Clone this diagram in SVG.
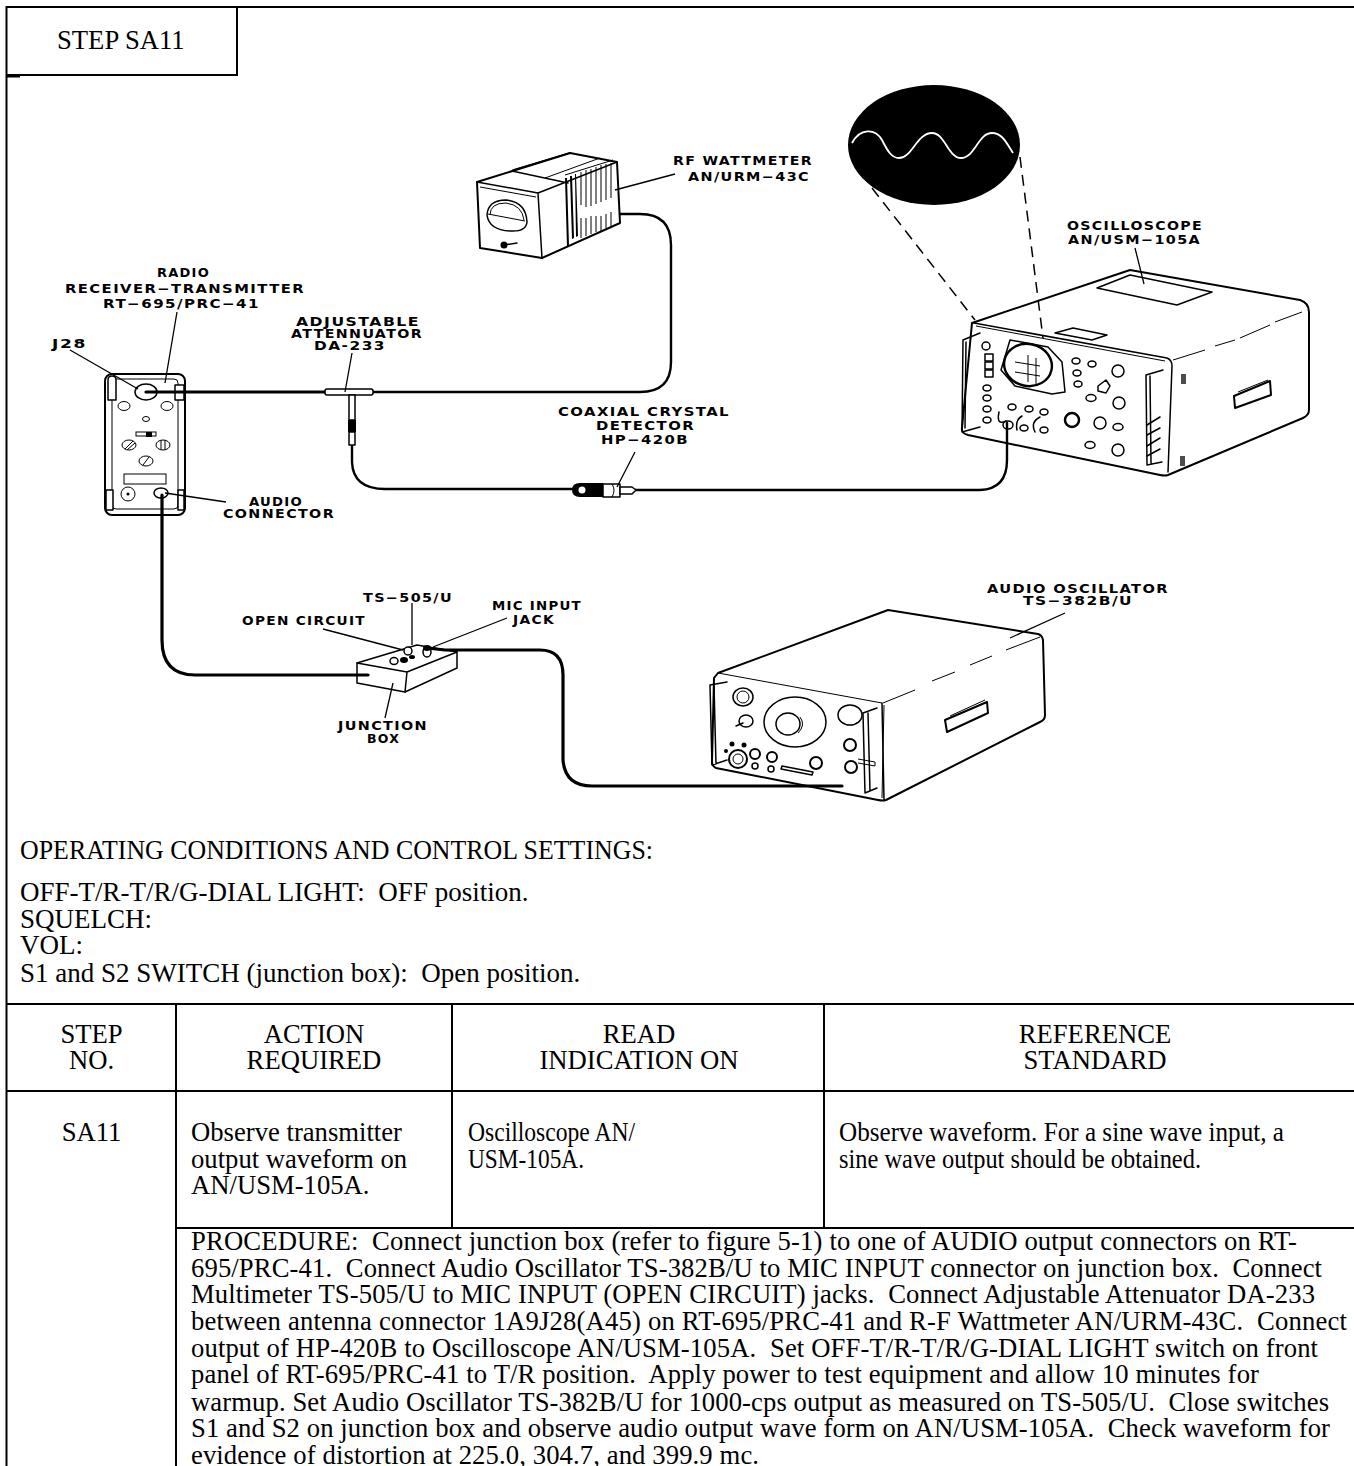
<svg xmlns="http://www.w3.org/2000/svg" width="1354" height="1466" viewBox="0 0 1354 1466">
<style>
.t{font-family:"Liberation Serif","Times New Roman",serif;font-size:26.67px;fill:#000}
.b{font-size:27px}
.m{text-anchor:middle}
.l{font-family:"DejaVu Sans",Arial,sans-serif;font-weight:700;font-size:12.5px;letter-spacing:1.200px;fill:#000}
.f{fill:none;stroke:#000;stroke-width:2}
.d{fill:none;stroke:#000;stroke-width:1.5;stroke-linejoin:round;stroke-linecap:round}
.w{fill:#fff;stroke:#000;stroke-width:1.5;stroke-linejoin:round}
.s{fill:none;stroke:#000;stroke-width:1}
.k{fill:#000}
.c{fill:none;stroke:#000;stroke-width:3.2;stroke-linecap:round;stroke-linejoin:round}
.c2{stroke-width:2.4}
.ld{fill:none;stroke:#000;stroke-width:1.3}
.dash{fill:none;stroke:#000;stroke-width:1.5;stroke-dasharray:11 7}
</style>
<rect width="1354" height="1466" fill="#fff"/>

<g id="frame">
<path class="f" d="M1354 7H6.500V1466M6 75H237V7M6 76.500H20" />
<path class="f" d="M6 1004H1354M6 1091H1354M176 1004V1466M452 1004V1228M824 1004V1228M176 1228H1354"/>
</g>

<g id="step-title"><text class="t" x="57" y="49">STEP SA11</text></g>

<g id="radio">
<rect class="w" x="105" y="374" width="80" height="141" rx="7" style="stroke-width:2"/>
<rect class="s" x="112" y="379" width="66" height="130" rx="4"/>
<path class="w" d="M108 400V380Q108 376 112 376Q116 376 116 380V400ZM175 400V385H184V400ZM106 490H113V510H106ZM178 490H184V510H178Z"/>
<ellipse class="w" cx="146" cy="392" rx="11" ry="8"/>
<ellipse class="s" cx="124" cy="406" rx="6" ry="4.500"/><ellipse class="s" cx="167" cy="406" rx="6" ry="4.500"/>
<ellipse class="s" cx="146" cy="419" rx="3.500" ry="2.500"/>
<rect class="s" x="136" y="432" width="20" height="4"/><rect class="k" x="146" y="432" width="6" height="5"/>
<ellipse class="s" cx="129" cy="445" rx="7" ry="5"/><path class="s" d="M125 449L133 441M127 450L135 443"/>
<ellipse class="s" cx="163" cy="445" rx="7" ry="5"/><path class="s" d="M161 440V450M165 440V450"/>
<ellipse class="s" cx="146" cy="461" rx="7" ry="5"/><path class="s" d="M143 465L149 457"/>
<rect class="s" x="124" y="474" width="42" height="10"/>
<circle class="s" cx="128" cy="494" r="7"/><circle class="k" cx="128" cy="494" r="1.500"/>
<ellipse class="w" cx="161" cy="493" rx="7" ry="5"/>
</g>

<g id="wattmeter">
<path class="w" d="M477 182L570 153L617 162L620 223L542 258L480 248Z" style="stroke-width:2"/>
<path class="d" d="M477 182L538 193L542 258M538 193L617 162M513 170L570 153M512 171L568 183"/>
<path class="s" d="M480 187L536 197M545 178L600 158M565 175L613 160"/>
<path class="k" d="M565 178l2 0l2 68l-2 1zM570 176l2 0l2 62l-2 1zM575 174l1 0l2 62l-2 1z"/>
<path class="s" d="M581 172V205M586 170V207M591 169V206M596 167V204M601 165V202M606 164V200M611 163V198M581 218V238M586 218V236M591 216V234M596 216V232M601 216V231M606 214V228M611 212V226"/>
<path class="d" d="M487 215Q488 200 506 200Q526 202 527 222Q526 232 510 231Q489 230 487 215Z"/>
<path class="s" d="M490 215Q490 203 506 203Q522 205 524 220M488 214L525 221"/>
<circle class="k" cx="504" cy="245" r="3.500"/><path class="d" d="M504 245L517 243"/>
</g>

<g id="oscilloscope-screen">
<ellipse class="k" cx="934" cy="145" rx="86" ry="60"/>
<path fill="none" stroke="#fff" stroke-width="1.800" d="M852 143C860 128 875 128 882 140C888 152 892 158 899 158C912 158 917 133 932 133C945 133 948 158 961 158C975 158 978 133 992 133C1002 133 1006 142 1013 153"/>
</g>

<g id="oscilloscope">
<path class="w" d="M972 323L1130 270L1300 300Q1309 303 1309 312V410Q1309 415 1303 418L1168 475Q1165 476 1160 475L968 435Q961 433 962 428L972 323Z" style="stroke-width:2"/>
<path class="d" d="M974 323L1167 358Q1172 360 1172 366L1168 472"/>
<path class="s" d="M976 326L1165 361M1173 360L1205 350M1215 346L1235 340M1240 338L1270 325M1275 322L1302 312"/>
<path class="d" d="M1097 288L1130 275L1212 292L1177 305Z"/>
<path class="d" d="M1055 333L1073 328L1107 335L1092 340Z"/>
<path class="d" d="M980 333L963 340L962 432L980 427M966 342L965 428"/>
<path class="d" d="M1163 370L1146 375L1147 465L1162 462M1150 376L1151 463"/>
<path class="d" d="M1010 340L1048 347L1062 362L1065 392L1052 394L1015 386L1001 370Z" />
<ellipse class="d" cx="1028" cy="365" rx="24" ry="21" transform="rotate(12 1028 365)" style="stroke-width:2.400"/>
<path class="s" d="M1015 362L1040 366M1015 372L1040 376M1028 355V382M1036 358V384"/>
<g class="d">
<ellipse cx="986" cy="346" rx="4" ry="4"/><rect x="985" y="354" width="8" height="7"/><rect x="985" y="362" width="8" height="7"/><rect x="985" y="370" width="8" height="7"/>
<ellipse cx="987" cy="388" rx="4" ry="3"/><ellipse cx="987" cy="398" rx="4" ry="3"/><ellipse cx="987" cy="409" rx="4" ry="3"/><ellipse cx="987" cy="420" rx="4" ry="3"/>
<ellipse cx="1012" cy="407" rx="4" ry="3"/><ellipse cx="1029" cy="409" rx="4" ry="3"/><ellipse cx="1044" cy="412" rx="4" ry="3"/>
<ellipse cx="1076" cy="361" rx="4" ry="3"/><ellipse cx="1092" cy="364" rx="4" ry="3"/><ellipse cx="1077" cy="373" rx="4" ry="3"/><ellipse cx="1078" cy="384" rx="4" ry="3"/><ellipse cx="1091" cy="398" rx="5" ry="3.500"/>
<circle cx="1118" cy="371" r="6"/><circle cx="1119" cy="403" r="6"/><circle cx="1100" cy="423" r="6"/><ellipse cx="1118" cy="427" rx="5" ry="3.500"/><ellipse cx="1090" cy="445" rx="5" ry="3.500"/><circle cx="1118" cy="450" r="6"/>
<path d="M1098 386L1106 380L1110 386L1106 393L1098 391Z"/>
<path d="M1006 421Q996 426 999 412M1017 430Q1015 420 1022 416M1035 432Q1030 422 1040 417"/>
<ellipse cx="1008" cy="425" rx="5" ry="4"/><ellipse cx="1024" cy="428" rx="4" ry="3"/><ellipse cx="1044" cy="430" rx="4" ry="3"/>
</g>
<circle class="d" cx="1072" cy="420" r="7" style="stroke-width:2.500"/>
<path class="k" d="M1181 374h5v10h-5zM1180 456h5v10h-5z" fill-opacity=".7"/>
<path class="d" d="M1234 396L1270 381L1271 395L1235 408Z" style="stroke-width:2"/><path class="s" d="M1238 392L1268 380"/>
<path class="d" d="M1147 425L1160 417M1147 435L1160 428M1147 446L1160 438M1147 456L1160 449"/>
</g>

<g id="junction-box">
<path class="w" d="M357 663L417 645L457 652V668L405 692L357 683Z"/>
<path class="d" d="M357 663L407 672L457 652M407 672L405 692"/>
<ellipse class="w" cx="394" cy="661" rx="4" ry="3.500"/>
<ellipse class="k" cx="404" cy="660" rx="4" ry="3"/>
<ellipse class="w" cx="408" cy="651" rx="4" ry="4"/>
<ellipse class="k" cx="412" cy="657" rx="3" ry="2"/>
<ellipse class="w" cx="427" cy="652" rx="4" ry="5"/>
<ellipse class="k" cx="427" cy="648" rx="4" ry="3"/>
</g>

<g id="audio-oscillator">
<path class="w" d="M718 673L888 610L1038 634Q1042 635 1043 640L1045 715Q1045 720 1040 722L886 800Q883 801 878 800L716 768Q712 766 712 762L714 678Z" style="stroke-width:2"/>
<path class="s" d="M718 673L882 703M884 705L882 798M883 703L915 690M932 681L955 672M970 665L992 656M1006 650L1040 637"/>
<path class="d" d="M882 703L884 800"/>
<path class="d" d="M727 682L710 685L712 765L727 760M714 686L716 764"/>
<path class="d" d="M877 708L863 713L865 793L877 788M868 713L870 791"/>
<ellipse class="d" cx="743" cy="697" rx="10" ry="9"/><circle class="s" cx="743" cy="697" r="6"/>
<ellipse class="d" cx="746" cy="721" rx="7" ry="6"/><path class="d" d="M736 726L743 723"/>
<ellipse class="d" cx="795" cy="722" rx="31" ry="25"/>
<ellipse class="d" cx="788" cy="724" rx="12" ry="11"/><path class="s" d="M800 717Q806 725 798 733"/>
<ellipse class="d" cx="850" cy="715" rx="12" ry="10"/>
<circle class="k" cx="732" cy="744" r="2.500"/><circle class="k" cx="744" cy="745" r="2.500"/><circle class="k" cx="726" cy="751" r="2"/>
<circle class="d" cx="738" cy="759" r="9" style="stroke-width:2"/><circle class="s" cx="738" cy="759" r="5"/>
<circle class="d" cx="755" cy="754" r="5" style="stroke-width:2"/><circle class="d" cx="772" cy="757" r="5" style="stroke-width:2"/>
<circle class="d" cx="755" cy="766" r="3"/><circle class="d" cx="771" cy="769" r="3"/>
<circle class="d" cx="816" cy="763" r="6" style="stroke-width:2"/>
<path class="d" d="M782 766L813 772L812 775L781 769Z"/>
<circle class="d" cx="850" cy="745" r="6" style="stroke-width:2"/><circle class="d" cx="851" cy="767" r="6" style="stroke-width:2"/>
<path class="s" d="M858 759L875 762V766L858 763"/>
<path class="d" d="M945 720L987 702L988 713L947 732Z" style="stroke-width:2"/><path class="s" d="M950 716L985 700"/>
</g>

<g id="connectors">
<path class="c" d="M146 392H325"/>
<path class="c c2" d="M373 392H640Q671 392 671 362V245Q671 214 640 214H620"/>
<path class="c c2" d="M352 445V462Q353 489 385 489H573"/>
<path class="c c2" d="M635 490H980Q1007 489 1007 460V423"/>
<path class="c" d="M162 495V640Q162 675 195 675H368"/>
<path class="c" d="M427 648L445 650H540Q563 650 563 675V760Q565 786 592 786H842"/>
<path class="dash" d="M872 188L975 320"/>
<path class="dash" d="M1020 157L1043 338"/>
</g>

<g id="attenuator">
<rect class="w" x="325" y="389" width="48" height="6" rx="2"/>
<rect class="w" x="349" y="395" width="6" height="25"/>
<rect class="k" x="348" y="420" width="8" height="12"/>
<rect class="w" x="349" y="432" width="6" height="13"/>
</g>

<g id="detector">
<path class="k" d="M580 483H603V497H580Q572 497 572 490Q572 483 580 483Z"/>
<circle cx="582" cy="490" r="3.500" fill="#fff"/>
<path class="w" d="M603 484H620V497H603Z"/>
<path class="s" d="M612 484Q616 490 612 497"/>
<path class="w" d="M620 487H632L636 490L632 494H620Z"/>
</g>

<g id="labels">
<text class="l" x="157" y="277" textLength="53" lengthAdjust="spacingAndGlyphs">RADIO</text>
<text class="l" x="65" y="293" textLength="240" lengthAdjust="spacingAndGlyphs">RECEIVER−TRANSMITTER</text>
<text class="l" x="103" y="308" textLength="157" lengthAdjust="spacingAndGlyphs">RT−695/PRC−41</text>
<text class="l" x="52" y="348" textLength="35" lengthAdjust="spacingAndGlyphs">J28</text>
<text class="l" x="296" y="326" textLength="124" lengthAdjust="spacingAndGlyphs">ADJUSTABLE</text>
<text class="l" x="291" y="338" textLength="132" lengthAdjust="spacingAndGlyphs">ATTENNUATOR</text>
<text class="l" x="314" y="350" textLength="72" lengthAdjust="spacingAndGlyphs">DA-233</text>
<text class="l" x="249" y="506" textLength="54" lengthAdjust="spacingAndGlyphs">AUDIO</text>
<text class="l" x="223" y="518" textLength="112" lengthAdjust="spacingAndGlyphs">CONNECTOR</text>
<text class="l" x="558" y="416" textLength="172" lengthAdjust="spacingAndGlyphs">COAXIAL CRYSTAL</text>
<text class="l" x="596" y="430" textLength="99" lengthAdjust="spacingAndGlyphs">DETECTOR</text>
<text class="l" x="601" y="444" textLength="88" lengthAdjust="spacingAndGlyphs">HP−420B</text>
<text class="l" x="673" y="165" textLength="140" lengthAdjust="spacingAndGlyphs">RF WATTMETER</text>
<text class="l" x="688" y="181" textLength="122" lengthAdjust="spacingAndGlyphs">AN/URM−43C</text>
<text class="l" x="1067" y="230" textLength="136" lengthAdjust="spacingAndGlyphs">OSCILLOSCOPE</text>
<text class="l" x="1068" y="244" textLength="133" lengthAdjust="spacingAndGlyphs">AN/USM−105A</text>
<text class="l" x="363" y="602" textLength="90" lengthAdjust="spacingAndGlyphs">TS−505/U</text>
<text class="l" x="242" y="625" textLength="124" lengthAdjust="spacingAndGlyphs">OPEN CIRCUIT</text>
<text class="l" x="492" y="610" textLength="90" lengthAdjust="spacingAndGlyphs">MIC INPUT</text>
<text class="l" x="513" y="624" textLength="42" lengthAdjust="spacingAndGlyphs">JACK</text>
<text class="l" x="338" y="730" textLength="90" lengthAdjust="spacingAndGlyphs">JUNCTION</text>
<text class="l" x="367" y="743" textLength="33" lengthAdjust="spacingAndGlyphs">BOX</text>
<text class="l" x="987" y="593" textLength="182" lengthAdjust="spacingAndGlyphs">AUDIO OSCILLATOR</text>
<text class="l" x="1023" y="605" textLength="110" lengthAdjust="spacingAndGlyphs">TS−382B/U</text>
<path class="ld" d="M177 312L165 383M70 350L138 389M226 502L165 493M352 353L345 392M675 174L615 190M635 452L617 487M1135 248L1144 284M412 603V645M323 629L403 650M507 618L433 647M393 683L385 718M1065 613L1010 638"/>
</g>

<g id="settings">
<text class="t b" x="20" y="859" textLength="633" lengthAdjust="spacingAndGlyphs">OPERATING CONDITIONS AND CONTROL SETTINGS:</text>
<text class="t b" x="20" y="901" xml:space="preserve">OFF-T/R-T/R/G-DIAL LIGHT:  OFF position.</text>
<text class="t b" x="20" y="928">SQUELCH:</text>
<text class="t b" x="20" y="954">VOL:</text>
<text class="t b" x="20" y="982" xml:space="preserve">S1 and S2 SWITCH (junction box):  Open position.</text>
</g>

<g id="table">
<text class="t m" x="91.500" y="1043">STEP</text><text class="t m" x="91.500" y="1069">NO.</text>
<text class="t m" x="314" y="1043">ACTION</text><text class="t m" x="314" y="1069">REQUIRED</text>
<text class="t m" x="639" y="1043">READ</text><text class="t m" x="639" y="1069">INDICATION ON</text>
<text class="t m" x="1095" y="1043">REFERENCE</text><text class="t m" x="1095" y="1069">STANDARD</text>
<text class="t m" x="91.500" y="1141">SA11</text>
<text class="t" x="191" y="1141">Observe transmitter</text>
<text class="t" x="191" y="1168">output waveform on</text>
<text class="t" x="191" y="1194">AN/USM-105A.</text>
<text class="t" x="468" y="1141" textLength="167" lengthAdjust="spacingAndGlyphs">Oscilloscope AN/</text>
<text class="t" x="468" y="1168" textLength="116" lengthAdjust="spacingAndGlyphs">USM-105A.</text>
<text class="t" x="839" y="1141" textLength="445" lengthAdjust="spacingAndGlyphs">Observe waveform. For a sine wave input, a</text>
<text class="t" x="839" y="1168" textLength="362" lengthAdjust="spacingAndGlyphs">sine wave output should be obtained.</text>
<text class="t" x="191" y="1250" textLength="1106" xml:space="preserve">PROCEDURE:  Connect junction box (refer to figure 5-1) to one of AUDIO output connectors on RT-</text>
<text class="t" x="191" y="1277" textLength="1131" xml:space="preserve">695/PRC-41.  Connect Audio Oscillator TS-382B/U to MIC INPUT connector on junction box.  Connect</text>
<text class="t" x="191" y="1303" textLength="1124" xml:space="preserve">Multimeter TS-505/U to MIC INPUT (OPEN CIRCUIT) jacks.  Connect Adjustable Attenuator DA-233</text>
<text class="t" x="191" y="1330" textLength="1156" xml:space="preserve">between antenna connector 1A9J28(A45) on RT-695/PRC-41 and R-F Wattmeter AN/URM-43C.  Connect</text>
<text class="t" x="191" y="1357" textLength="1127" xml:space="preserve">output of HP-420B to Oscilloscope AN/USM-105A.  Set OFF-T/R-T/R/G-DIAL LIGHT switch on front</text>
<text class="t" x="191" y="1383" textLength="1068" xml:space="preserve">panel of RT-695/PRC-41 to T/R position.  Apply power to test equipment and allow 10 minutes for</text>
<text class="t" x="191" y="1411" textLength="1138" xml:space="preserve">warmup. Set Audio Oscillator TS-382B/U for 1000-cps output as measured on TS-505/U.  Close switches</text>
<text class="t" x="191" y="1437" textLength="1139" xml:space="preserve">S1 and S2 on junction box and observe audio output wave form on AN/USM-105A.  Check waveform for</text>
<text class="t" x="191" y="1464" textLength="568" xml:space="preserve">evidence of distortion at 225.0, 304.7, and 399.9 mc.</text>
</g>
</svg>
